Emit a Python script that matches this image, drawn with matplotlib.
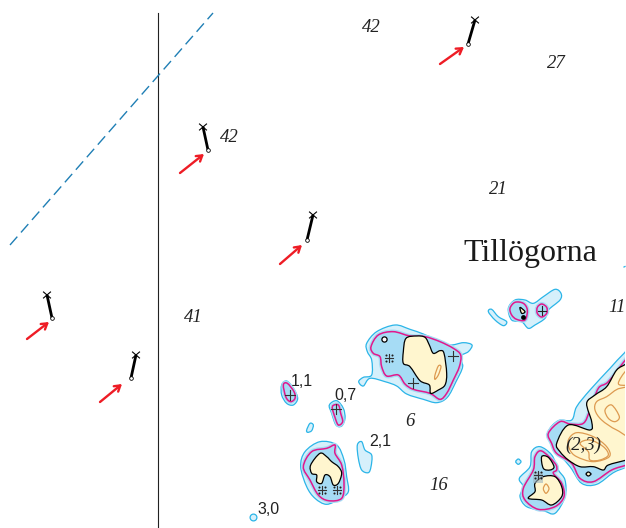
import matplotlib
matplotlib.use('Agg')
import matplotlib.pyplot as plt
from matplotlib.path import Path
from matplotlib.patches import PathPatch, Rectangle

SHOAL = '#d6f0fb'
DEEP = '#a6dcf5'
LAND = '#fff6cf'
EDGE = '#2bb5e8'
MAGENTA = '#e2188c'
ORANGE = '#dd9a50'

crop_a = (270, 310)
crop_b = (480, 270)

###=========== depth labels ===========
depth_italic = ['42', '27', '42', '21', '41', '11', '6', '16', '(2,3)']
depth_italic_x = [371, 556, 229, 498, 193, 617, 410, 439, 583]
depth_italic_y = [28, 64, 137, 190, 318, 308, 421, 486, 445]
depth_plain = ['1,1', '0,7', '2,1', '3,0']
depth_plain_x = [302, 345, 380, 269]
depth_plain_y = [381, 395, 441, 509]

###=========== beacons and arrows ===========
beacon_top_x = [475, 203, 313, 47, 136]
beacon_top_y = [20, 127, 215, 295, 355]
beacon_foot_x = [468, 208, 307, 52, 131]
beacon_foot_y = [44, 150, 240, 318, 378]
arrow_from_x = [440, 180, 280, 27, 100]
arrow_from_y = [64, 173, 264, 339, 402]
arrow_to_x = [464, 204, 302, 49, 122]
arrow_to_y = [47, 154, 245, 322, 384]

###=========== crop a: islands ===========
big_shoal = [(290,100),(320,65),(375,45),(420,58),(460,72),(500,90),(540,105),(580,98),(606,105),(595,125),(570,140),
             (578,170),(558,215),(532,262),(500,278),(460,268),(410,252),(380,228),(345,215),(300,205),(280,228),(266,215),
             (280,202),(305,195),(305,150),(292,125)]
big_reef = [(303,110),(325,75),(370,65),(420,78),(465,80),(510,95),(550,115),(572,135),(568,170),(550,210),(530,250),
            (510,268),(480,250),(430,238),(405,222),(385,195),(350,198),(335,170),(330,140),(310,130)]
big_land = [(400,125),(408,85),(440,78),(465,82),(478,105),(490,130),(510,122),(522,130),(530,190),(525,225),(505,240),
            (482,250),(478,225),(450,212),(420,170),(400,160)]
big_hill = [(495,195),(505,168),(513,170),(505,195),(495,208)]
south_shoal = [(92,470),(105,425),(150,395),(200,405),(222,450),(230,500),(235,545),(210,565),(170,583),(135,565),(110,530)]
south_reef = [(100,470),(125,425),(170,415),(195,405),(195,430),(215,465),(222,520),(215,565),(175,572),(145,555),(120,510)]
south_land = [(122,465),(150,430),(170,440),(185,455),(205,470),(215,490),(205,520),(190,525),(180,500),(165,495),(155,520),
              (140,515),(140,495),(125,490)]
rock11_shoal = [(35,225),(50,213),(70,235),(83,265),(70,285),(50,280),(35,255)]
rock11_reef = [(40,225),(52,220),(72,245),(75,265),(62,275),(48,262)]
rock07_shoal = [(178,285),(200,272),(220,295),(225,325),(215,348),(198,345),(185,310)]
rock07_reef = [(187,290),(205,285),(212,310),(218,335),(205,345),(195,322)]
speck_a = [(110,360),(120,340),(130,345),(125,362),(113,367)]
shoal21 = [(262,405),(275,395),(285,420),(305,435),(303,470),(295,488),(275,480),(265,445)]

###=========== crop b: islands ===========
north_shoal = [(85,115),(105,90),(135,90),(160,100),(190,80),(225,58),(243,70),(240,90),(205,120),(195,145),(165,165),
               (145,175),(125,155),(95,150)]
north_reef = [(90,115),(105,97),(130,100),(142,120),(135,150),(110,148),(95,135)]
north_reef2 = [(172,112),(185,102),(200,112),(200,130),(185,141),(172,130)]
north_land = [(120,112),(135,125),(125,130)]
north_speck = [(25,125),(35,118),(55,140),(80,155),(70,167),(45,150)]
main_shoal = [(205,485),(235,452),(275,450),(290,410),(330,360),(390,295),(432,250),(480,210),(480,560),(440,590),(400,608),
              (350,643),(305,640),(270,590),(215,525)]
main_reef = [(205,490),(240,455),(270,462),(310,460),(330,420),(355,355),(385,335),(440,265),(480,220),(480,570),(440,585),
             (395,600),(340,635),(300,625),(275,580),(230,550),(215,520)]
main_land = [(230,520),(265,465),(330,480),(335,455),(320,400),(345,375),(380,350),(410,300),(440,280),(480,240),(480,560),
             (440,570),(385,585),(370,600),(340,590),(300,590),(265,570),(240,545)]
main_hills = [[(265,510),(290,488),(340,500),(380,530),(388,560),(340,575),(290,560),(270,540)],
              [(300,520),(330,510),(370,530),(385,555),(360,570),(330,570),(325,545)],
              [(375,420),(395,405),(418,440),(405,455),(385,445)],
              [(350,395),(380,380),(420,355),(470,365),(470,500),(410,480),(365,450),(345,420)],
              [(415,340),(440,300),(470,290),(470,330),(440,345)]]
sw_shoal = [(118,625),(150,590),(155,545),(180,530),(215,555),(235,600),(255,630),(255,680),(225,730),(190,722),(140,710),
            (120,680),(130,650)]
sw_reef = [(130,655),(160,600),(165,560),(185,543),(225,580),(230,600),(220,610),(245,640),(252,680),(225,710),(175,718),(135,690)]
sw_land_a = [(185,560),(205,562),(222,590),(210,600),(190,595)]
sw_land_b = [(165,640),(190,620),(225,620),(245,650),(245,680),(215,705),(185,690),(145,685),(165,665)]
sw_hill = [(190,656),(198,642),(207,656),(198,670)]
speck_b = [(107,575),(115,567),(123,575),(115,583)]
speck_land = [(318,612),(325,606),(333,612),(325,618)]

###=========== symbols (crop coords) ===========
cross_a_x = [60, 198, 430, 548]
cross_a_y = [255, 298, 220, 138]
rock_a_x = [358, 155, 200]
rock_a_y = [145, 540, 540]
rock_b_x = [175]
rock_b_y = [615]


def shift(pts, org):
    return [(org[0] + x / 3., org[1] + y / 3.) for x, y in pts]


def blob(pts):
    # closed cubic curve through every outline point
    n = len(pts)
    verts = [pts[0]]
    codes = [Path.MOVETO]
    for i in range(n):
        p0, p1, p2, p3 = pts[i - 1], pts[i], pts[(i + 1) % n], pts[(i + 2) % n]
        c1 = (p1[0] + (p2[0] - p0[0]) / 6., p1[1] + (p2[1] - p0[1]) / 6.)
        c2 = (p2[0] - (p3[0] - p1[0]) / 6., p2[1] - (p3[1] - p1[1]) / 6.)
        verts += [c1, c2, p2]
        codes += [Path.CURVE4, Path.CURVE4, Path.CURVE4]
    return Path(verts, codes)


fig = plt.figure(figsize=(6.26, 5.28), dpi=100)
ax = fig.add_axes([0, 0, 1, 1])
ax.set_xlim(0, 626)
ax.set_ylim(528, 0)
ax.axis('off')
clip = Rectangle((0, 0), 625, 528, transform=ax.transData)


def shape(pts, org, fc='none', ec='none', lw=0.9, z=1):
    p = PathPatch(blob(shift(pts, org)), fc=fc, ec=ec, lw=lw, zorder=z)
    ax.add_patch(p)
    p.set_clip_path(clip)


def reef(pts, org):
    # darker water reaches a little past the magenta line
    shape(pts, org, fc=DEEP, ec=DEEP, lw=3.0, z=2)
    shape(pts, org, ec=MAGENTA, lw=1.1, z=4)


def land(pts, org):
    shape(pts, org, fc=LAND, ec='black', lw=0.9, z=5)


def rocks(xs, ys, org):
    for x, y in zip(xs, ys):
        px, py = org[0] + x / 3., org[1] + y / 3.
        ax.plot([px - 4, px + 4], [py, py], color='#333333', lw=0.8, zorder=7)
        ax.plot([px, px], [py - 4, py + 4], color='#333333', lw=0.8, zorder=7)
        ax.scatter([px - 3, px + 3, px - 3, px + 3], [py - 3, py - 3, py + 3, py + 3], s=2.2, color='#222222', lw=0, zorder=7)


###=========== crop a shapes ===========
for s in [big_shoal, south_shoal, rock11_shoal, rock07_shoal, shoal21, speck_a]:
    shape(s, crop_a, fc=SHOAL, ec=EDGE)
for r in [big_reef, south_reef, rock11_reef, rock07_reef]:
    reef(r, crop_a)
land(big_land, crop_a)
land(south_land, crop_a)
shape(big_hill, crop_a, ec=ORANGE, lw=0.9, z=6)

###=========== crop b shapes ===========
for s in [north_shoal, north_speck, main_shoal, sw_shoal, speck_b]:
    shape(s, crop_b, fc=SHOAL, ec=EDGE)
for r in [north_reef, north_reef2, main_reef, sw_reef]:
    reef(r, crop_b)
land(north_land, crop_b)
land(main_land, crop_b)
land(sw_land_a, crop_b)
land(sw_land_b, crop_b)
land(speck_land, crop_b)
for h in main_hills:
    shape(h, crop_b, ec=ORANGE, lw=0.9, z=6)
shape(sw_hill, crop_b, ec=ORANGE, lw=0.9, z=6)

###=========== symbols ===========
for x, y in shift(list(zip(cross_a_x, cross_a_y)), crop_a):
    ax.plot([x - 5, x + 5], [y, y], color='#333333', lw=0.8, zorder=7)
    ax.plot([x, x], [y - 5, y + 5], color='#333333', lw=0.8, zorder=7)
ax.plot([537.5, 545.5], [310.5, 310.5], color='#222222', lw=0.8, zorder=7)
ax.plot([541.5, 541.5], [306, 315], color='#222222', lw=0.8, zorder=7)
ax.scatter([523], [317], s=12, color='black', lw=0, zorder=7)
ax.scatter([384.3], [338.7], s=14, facecolor='white', edgecolor='black', lw=0.9, zorder=7)
rocks(rock_a_x, rock_a_y, crop_a)
rocks(rock_b_x, rock_b_y, crop_b)
ax.add_patch(Rectangle((533, 472), 10, 11, fc='#9cb4bf', ec='none', alpha=0.6, zorder=6))

###=========== small outlier shoals ===========
ax.scatter([253], [517], s=24, marker='o', facecolor=SHOAL, edgecolor=EDGE, lw=0.9, zorder=1)
ax.plot([624, 625], [267, 266.5], color=EDGE, lw=0.9, zorder=1)

###=========== lines ===========
ax.plot([158, 158], [13, 528], color='#222222', lw=0.8, zorder=3)
ax.plot([10, 213], [245, 13], color='#1f7fb5', lw=1.0, dashes=(8, 4), zorder=3)

###=========== beacons ===========
for i in range(len(beacon_top_x)):
    tx, ty, fx, fy = beacon_top_x[i], beacon_top_y[i], beacon_foot_x[i], beacon_foot_y[i]
    ax.plot([tx, fx], [ty, fy], color='black', lw=2.0, zorder=8, solid_capstyle='butt')
    ax.plot([tx - 3.5, tx + 3.5], [ty - 3, ty + 3], color='black', lw=0.8, zorder=8)
    ax.plot([tx - 3.5, tx + 3.5], [ty + 3, ty - 3], color='black', lw=0.8, zorder=8)
    ax.scatter([fx], [fy], s=7, marker='o', facecolor='white', edgecolor='black', lw=0.6, zorder=9)
    ax.annotate('', xy=(arrow_to_x[i], arrow_to_y[i]), xytext=(arrow_from_x[i], arrow_from_y[i]), zorder=9,
                arrowprops=dict(arrowstyle='->,head_length=0.4,head_width=0.25', color='#ee1c25', lw=1.7,
                                shrinkA=0, shrinkB=0))

###=========== text ===========
for t, x, y in zip(depth_italic, depth_italic_x, depth_italic_y):
    ax.text(x, y, t, family='Liberation Serif', style='italic', fontsize=13.5, color='#222222',
            ha='center', va='center', zorder=10)
for t, x, y in zip(depth_plain, depth_plain_x, depth_plain_y):
    ax.text(x, y, t, family='Liberation Sans', fontsize=11.5, color='#222222', ha='center', va='center', zorder=10)
ax.text(530.5, 254, 'Tillögorna', family='Liberation Serif', fontsize=23, color='#1a1a1a',
        ha='center', va='center', zorder=10)

fig.savefig('out.png', dpi=100)
